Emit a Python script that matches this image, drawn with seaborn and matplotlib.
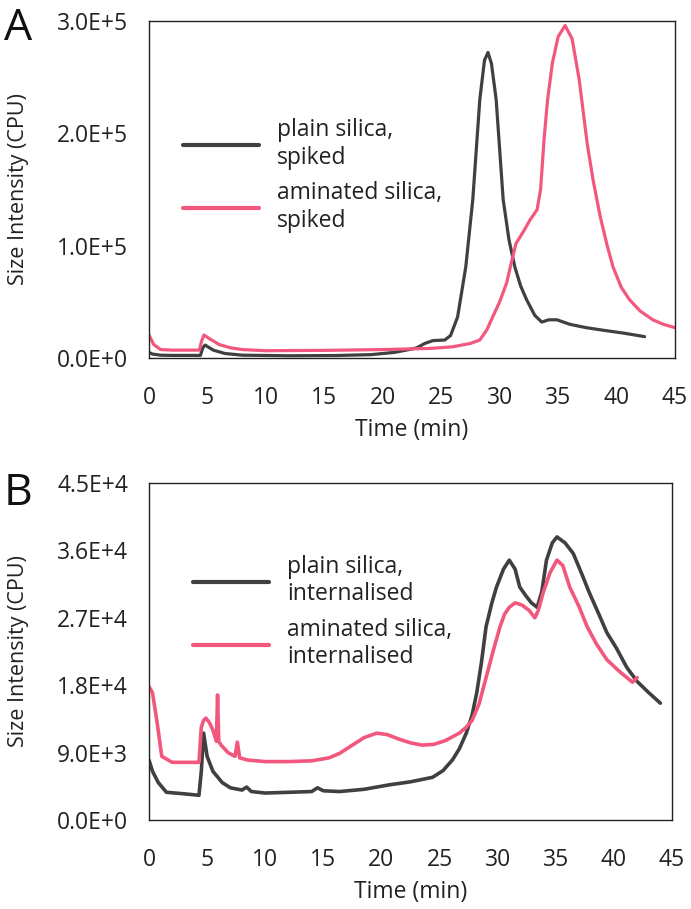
import numpy as np
import pandas as pd
import matplotlib
matplotlib.use("Agg")
import matplotlib.pyplot as plt
import seaborn as sns

# ---------------- data ----------------
# panel A : spiked samples
tA_plain = [0, 0.3, 1, 2, 4.4, 4.6, 4.8, 5.5, 6.5, 8, 12, 16, 19, 21, 22, 22.9,
            23.6, 24.3, 25.3, 25.8, 26.4, 27.1, 27.7, 28.3, 28.7, 29.0, 29.3,
            29.7, 30.3, 30.8, 31.3, 31.8, 32.3, 33.0, 33.6, 34.2, 34.9, 36,
            37.4, 39, 40.7, 42.4]
vA_plain = [5000, 3500, 2500, 2300, 2300, 9000, 11500, 7000, 4000, 2500, 2000,
            2200, 3000, 5000, 7000, 9000, 13000, 15500, 16000, 20000, 36500,
            81000, 141000, 230000, 265000, 272000, 262000, 230000, 141000,
            105000, 81000, 64000, 52000, 38000, 32000, 34000, 34000, 30000,
            27000, 24500, 22000, 19000]

tA_amin = [0, 0.4, 1, 2, 4.3, 4.5, 4.7, 5.2, 6, 7, 8, 10, 15, 20, 24, 26, 26.8,
           27.5, 28.3, 28.9, 29.4, 30.0, 30.6, 31.0, 31.4, 32.0, 32.6, 33.2,
           33.5, 33.8, 34.1, 34.5, 35.0, 35.6, 36.2, 36.8, 37.5, 38.0, 38.6,
           39.2, 39.7, 40.4, 41.1, 42, 43.1, 44, 45]
vA_amin = [20500, 12000, 7500, 7000, 7000, 15000, 20500, 17000, 12000, 9000,
           7500, 6500, 6800, 7500, 8500, 10000, 11600, 13000, 16000, 25000,
           36500, 50000, 67000, 85000, 102000, 112000, 123000, 132000, 150000,
           195000, 230000, 262000, 286000, 296000, 284000, 248000, 190000,
           158000, 126000, 100000, 81000, 63000, 52000, 42000, 34000, 30000,
           27000]

# panel B : internalised samples
tB_plain = [0, 0.3, 0.8, 1.5, 3, 4.3, 4.5, 4.7, 5.0, 5.5, 6.3, 7.0, 8.0, 8.4,
            8.8, 10, 12, 14, 14.5, 15, 16.4, 18.5, 20.7, 22.5, 24.4, 25.3, 26.1,
            26.7, 27.3, 27.8, 28.2, 28.6, 29.0, 29.5, 29.9, 30.5, 31.0, 31.5,
            31.9, 32.4, 32.9, 33.4, 33.8, 34.2, 34.7, 35.1, 35.8, 36.5, 37.2,
            37.9, 38.7, 39.4, 40.2, 41.1, 42.0, 43.0, 44.0]
vB_plain = [8000, 6500, 5000, 3700, 3500, 3300, 6500, 11600, 8500, 6500, 5000,
            4300, 4000, 4400, 3800, 3600, 3700, 3800, 4300, 3900, 3800, 4100,
            4700, 5100, 5700, 6600, 8000, 9500, 11600, 14000, 17000, 21000,
            25800, 29000, 31100, 33500, 34700, 33500, 31100, 30000, 29000,
            28400, 30500, 34700, 37000, 37800, 37000, 35600, 33000, 30300,
            27500, 25000, 23000, 20400, 18500, 17000, 15600]

tB_amin = [0, 0.3, 0.7, 1.1, 2, 3.5, 4.3, 4.5, 4.7, 4.9, 5.2, 5.5, 5.8, 5.9,
           6.0, 6.2, 6.8, 7.4, 7.6, 7.8, 8.5, 10, 12, 14, 15.5, 16.4, 17.5,
           18.5, 19.6, 20.5, 21.5, 22.5, 23.5, 24.5, 25.5, 26.7, 27.3, 27.8,
           28.4, 29.0, 29.6, 30.2, 30.6, 31.0, 31.5, 32.1, 32.7, 33.2, 33.5,
           33.9, 34.5, 35.1, 35.6, 36.2, 37.0, 37.7, 38.5, 39.4, 40.5, 41.6,
           42.0]
vB_amin = [17800, 17000, 13000, 8500, 7700, 7700, 7700, 12400, 13300, 13600,
           13000, 12000, 10500, 16700, 10500, 10000, 9000, 8500, 10400, 8300,
           8000, 7800, 7800, 7900, 8300, 8900, 10000, 11000, 11600, 11400,
           10800, 10300, 10000, 10100, 10600, 11600, 12400, 13300, 15500,
           19000, 22500, 25800, 27500, 28400, 29000, 28700, 28000, 27000,
           28000, 30300, 33000, 34700, 34000, 31100, 28500, 25800, 23500,
           21400, 19800, 18400, 19000]

x_ticks = [0, 5, 10, 15, 20, 25, 30, 35, 40, 45]
yA_ticks = [0, 1e5, 2e5, 3e5]
yA_labels = ["0.0E+0", "1.0E+5", "2.0E+5", "3.0E+5"]
yB_ticks = [0, 9e3, 1.8e4, 2.7e4, 3.6e4, 4.5e4]
yB_labels = ["0.0E+0", "9.0E+3", "1.8E+4", "2.7E+4", "3.6E+4", "4.5E+4"]

GREY = "#404040"
PINK = "#f2587d"
TXT = "#222222"

sns.set_style("white")
plt.rcParams["font.family"] = ["Open Sans", "DejaVu Sans"]
FS = 16.5


def make_df(t1, v1, lab1, t2, v2, lab2):
    d1 = pd.DataFrame({"t": t1, "v": v1, "sample": lab1})
    d2 = pd.DataFrame({"t": t2, "v": v2, "sample": lab2})
    return pd.concat([d1, d2], ignore_index=True)


def style_axis(ax, yticks, ylabels, ymax):
    ax.set_xlim(0, 45)
    ax.set_ylim(0, ymax)
    ax.set_xticks(x_ticks)
    ax.set_yticks(yticks)
    ax.set_yticklabels(ylabels)
    ax.tick_params(direction="in", length=6, width=1, colors="black",
                   labelsize=FS, labelcolor=TXT)
    ax.tick_params(axis="x", pad=20)
    ax.tick_params(axis="y", pad=15)
    for s in ax.spines.values():
        s.set_color(TXT)
        s.set_linewidth(1.0)
    ax.set_xlabel("Time (min)", fontsize=FS, color=TXT)
    ax.set_ylabel("Size Intensity (CPU)", fontsize=15.5, color=TXT)
    ax.xaxis.set_label_coords(0.5, -0.178)


fig = plt.figure(figsize=(6.91, 9.09), dpi=100)
axA = fig.add_axes([149 / 691, 1 - 358 / 909, 526 / 691, 337 / 909])
axB = fig.add_axes([149 / 691, 1 - 820 / 909, 523 / 691, 337 / 909])

dfA = make_df(tA_plain, vA_plain, "plain silica,\nspiked",
              tA_amin, vA_amin, "aminated silica,\nspiked")
sns.lineplot(data=dfA, x="t", y="v", hue="sample",
             palette=[GREY, PINK], linewidth=2.3, ax=axA)
style_axis(axA, yA_ticks, yA_labels, 3e5)
axA.yaxis.set_label_coords(-0.228, 0.5)

dfB = make_df(tB_plain, vB_plain, "plain silica,\ninternalised",
              tB_amin, vB_amin, "aminated silica,\ninternalised")
sns.lineplot(data=dfB, x="t", y="v", hue="sample",
             palette=[GREY, PINK], linewidth=2.6, ax=axB)
style_axis(axB, yB_ticks, yB_labels, 4.5e4)
axB.yaxis.set_label_coords(-0.229, 0.5)

for ax, anchor in [(axA, (0.065, 0.711)), (axB, (0.084, 0.787))]:
    leg = ax.legend(loc="upper left", bbox_to_anchor=anchor, frameon=False,
                    fontsize=FS, handlelength=3.3, handletextpad=0.8,
                    borderpad=0, borderaxespad=0, labelspacing=0.5,
                    title=None)
    for h in leg.get_lines():
        h.set_linewidth(3)
    for txt in leg.get_texts():
        txt.set_color(TXT)

fig.text(4 / 691, 1 - 40 / 909, "A", fontsize=32, color="#111111")
fig.text(4 / 691, 1 - 505 / 909, "B", fontsize=32, color="#111111")

fig.savefig("out.png", dpi=100)
